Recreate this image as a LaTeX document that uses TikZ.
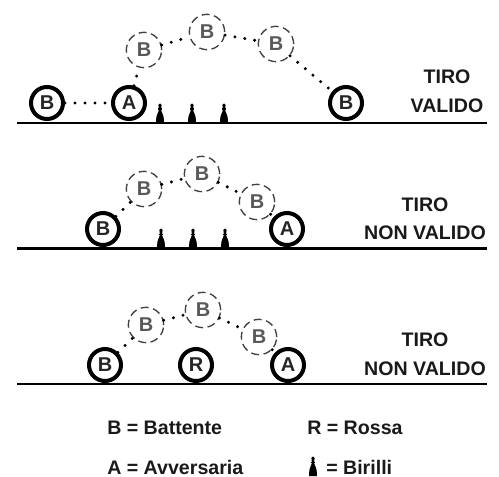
\documentclass[tikz,border=0pt]{standalone}
\usepackage{fontspec}
\setmainfont{Liberation Sans}
\tikzset{
  x=0.75pt,y=-0.75pt,
  ball/.style={circle,draw=black,line width=3pt,minimum size=24pt,inner sep=0pt,font=\bfseries\fontsize{15}{16}\selectfont,text=black!85},
  ghost/.style={circle,draw=black!75,line width=1pt,dash pattern=on 6pt off 3.4pt,minimum size=26.5pt,inner sep=0pt,font=\bfseries\fontsize{15}{16}\selectfont,text=black!65},
  dotline/.style={line width=2.5pt,line cap=round,dash pattern=on 0pt off 7.5pt,black},
  ground/.style={line width=2.2pt,black},
  lab/.style={font=\bfseries\fontsize{14.7}{16}\selectfont,text=black!90,inner sep=0pt},
  leg/.style={font=\bfseries\fontsize{14.7}{16}\selectfont,text=black!90,inner sep=0pt,anchor=west},
  pics/bir/.style={code={
    \fill[black] (-1.6,-18) .. controls (-1.6,-20) and (1.6,-20) .. (1.6,-18)
      -- (1.1,-13) .. controls (1.4,-11) and (3.9,-8) .. (3.9,-3)
      -- (3.9,0) -- (-3.9,0) -- (-3.9,-3)
      .. controls (-3.9,-8) and (-1.4,-11) .. (-1.1,-13) -- cycle;
    \fill[black] (-2.4,-14.5) rectangle (2.4,-13.2);
  }}
}
\begin{document}
\begin{tikzpicture}
\useasboundingbox (0,0) rectangle (499,477);
% panel 1
\coordinate (g1a) at (17,123); \coordinate (g1b) at (487,123);
\draw[ground] (g1a) -- (g1b);
\node[ball] (b1) at (47,103) {B};
\node[ball] (a1) at (129,103) {A};
\node[ball] (e1) at (346,103) {B};
\node[ghost] (p1) at (144,50) {B};
\node[ghost] (p2) at (207,32) {B};
\node[ghost] (p3) at (276,44) {B};
\draw[dotline] (b1) -- (a1);
\draw[dotline] (a1) -- (p1);
\draw[dotline] (p1) -- (p2);
\draw[dotline] (p2) -- (p3);
\draw[dotline] (p3) -- (e1);
\pic at (160,123) {bir};
\pic at (192,123) {bir};
\pic at (224,123) {bir};
\node[lab] (t1) at (447,77) {TIRO};
\node[lab] (t2) at (447,106) {VALIDO};
% panel 2
\coordinate (g2a) at (17,248.5); \coordinate (g2b) at (487,248.5);
\draw[ground] (g2a) -- (g2b);
\node[ball] (b2) at (103,229) {B};
\node[ball] (a2) at (287,229) {A};
\node[ghost] (q1) at (144,189) {B};
\node[ghost] (q2) at (202,174) {B};
\node[ghost] (q3) at (257,202) {B};
\draw[dotline] (b2) -- (q1);
\draw[dotline] (q1) -- (q2);
\draw[dotline] (q2) -- (q3);
\draw[dotline] (q3) -- (a2);
\pic at (161,248) {bir};
\pic at (193,248) {bir};
\pic at (225,248) {bir};
\node[lab] (t3) at (425,205) {TIRO};
\node[lab] (t4) at (425,233) {NON VALIDO};
% panel 3
\coordinate (g3a) at (17,384); \coordinate (g3b) at (487,384);
\draw[ground] (g3a) -- (g3b);
\node[ball] (b3) at (105,365) {B};
\node[ball] (r3) at (196,365) {R};
\node[ball] (a3) at (288,365) {A};
\node[ghost] (s1) at (146,325) {B};
\node[ghost] (s2) at (203,310) {B};
\node[ghost] (s3) at (259,337) {B};
\draw[dotline] (b3) -- (s1);
\draw[dotline] (s1) -- (s2);
\draw[dotline] (s2) -- (s3);
\draw[dotline] (s3) -- (a3);
\node[lab] (t5) at (425,340) {TIRO};
\node[lab] (t6) at (425,369) {NON VALIDO};
% legend
\node[leg] (l1) at (107,428) {B = Battente};
\node[leg] (l2) at (307,428) {R = Rossa};
\node[leg] (l3) at (107,467) {A = Avversaria};
\pic at (313,476) {bir};
\node[leg] (l4) at (326,467) {= Birilli};
\end{tikzpicture}
\end{document}
